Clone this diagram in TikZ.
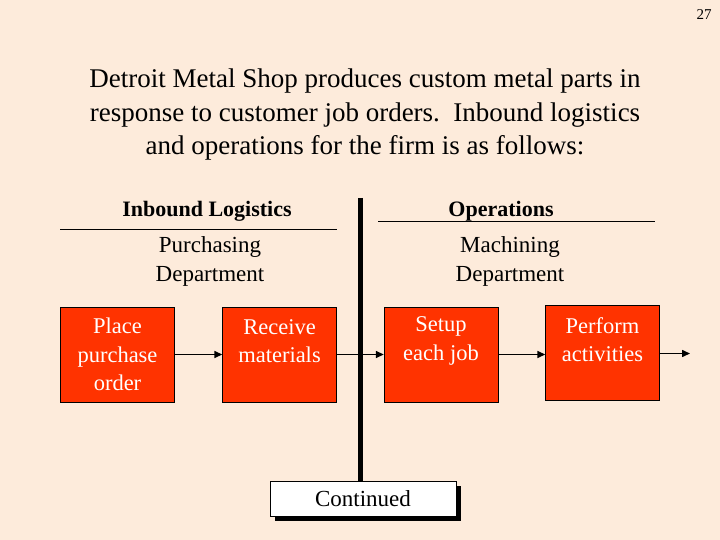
\documentclass[tikz,border=0pt]{standalone}
\usepackage{fontspec}
\setmainfont{Liberation Serif}
\usetikzlibrary{arrows.meta}
\definecolor{bg}{HTML}{FDEBDB}
\definecolor{boxred}{HTML}{FF3300}
\begin{document}
\begin{tikzpicture}[x=1pt,y=-1pt,
  box/.style={draw=black,fill=boxred,minimum width=114pt,minimum height=95pt,inner sep=0pt},
  btxt/.style={text=white,align=center,font=\fontsize{22.5}{28.5}\selectfont},
  arr/.style={-{Triangle[length=8pt,width=7pt]},line width=1.5pt},
  lbl/.style={font=\fontsize{23}{29}\selectfont,align=center}]
\useasboundingbox[fill=bg] (0,0) rectangle (720,540);
\node[font=\fontsize{15}{16}\selectfont] (pg) at (704,15) {27};
\node[align=center,font=\fontsize{27}{33.5}\selectfont] (title) at (365,115) {Detroit Metal Shop produces custom metal parts in\\response to customer job orders.\ \ Inbound logistics\\and operations for the firm is as follows:};
\node[font=\bfseries\fontsize{22}{24}\selectfont] (h1) at (207,211) {Inbound Logistics};
\node[font=\bfseries\fontsize{22}{24}\selectfont] (h2) at (501,211) {Operations};
\coordinate (l1a) at (60,229); \coordinate (l1b) at (337,229);
\coordinate (l2a) at (378,221); \coordinate (l2b) at (655,221);
\draw[line width=0.6pt] (l1a) -- (l1b);
\draw[line width=0.6pt] (l2a) -- (l2b);
\node[lbl] (pd) at (210,261) {Purchasing\\Department};
\node[lbl] (md) at (510,261) {Machining\\Department};
\coordinate (vt) at (360,198); \coordinate (vb) at (360,483);
\draw[line width=5pt] (vt) -- (vb);
\node[box,label={[btxt]center:Place\\purchase\\order}] (b1) at (117.5,354.5) {};
\node[box,label={[btxt,yshift=13.5pt]center:Receive\\materials}] (b2) at (279.5,354.5) {};
\node[box,label={[btxt,yshift=13.5pt]center:Setup\\each job}] (b3) at (441,354.5) {};
\node[box,label={[btxt,yshift=13.5pt]center:Perform\\activities}] (b4) at (602.5,353) {};
\coordinate (end) at (690,353.5);
\draw[arr] (b1.east) -- (b1.east -| b2.west);
\draw[arr] (b2.east) -- (b2.east -| b3.west);
\draw[arr] (b3.east) -- (b3.east -| b4.west);
\draw[arr] (b4.east |- end) -- (end);
\fill[black] (275,486) rectangle (461,521);
\node[draw=black,fill=white,minimum width=186pt,minimum height=35pt,inner sep=0pt,font=\fontsize{23}{24}\selectfont] (cont) at (363,498.5) {Continued};
\end{tikzpicture}
\end{document}
